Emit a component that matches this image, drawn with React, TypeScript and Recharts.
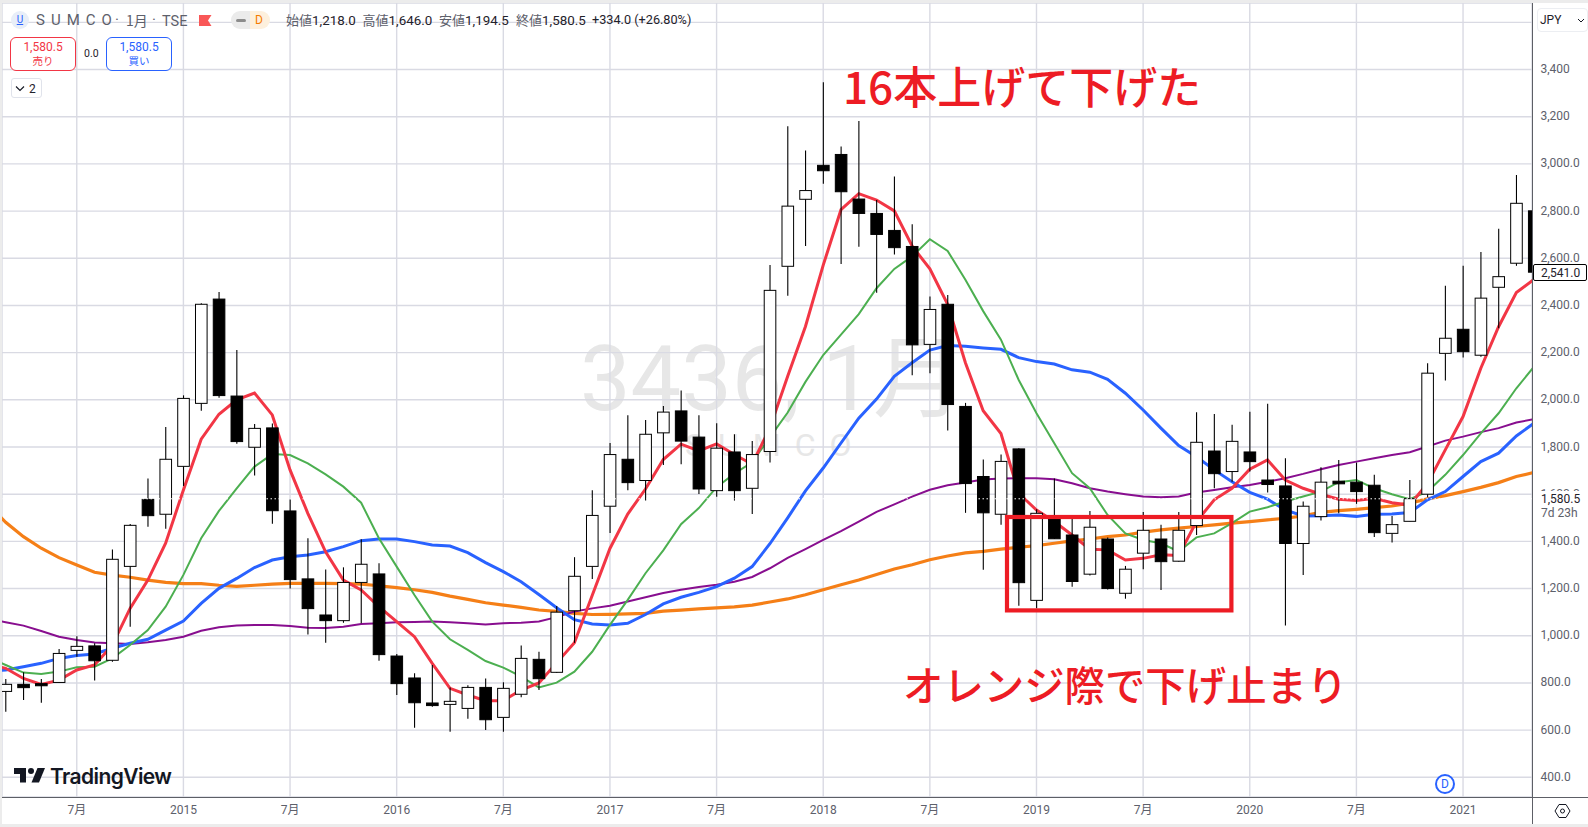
import React from "react";
import { ComposedChart, Bar, Line, XAxis, YAxis, CartesianGrid, ReferenceLine } from "recharts";

const FIRST_MONTH = -11; // Feb 2014, counted in months from Jan 2015
const opens = [790,764,794,797,802,938,957,896,1294,1578,1515,1718,1985,2427,2016,1799,1881,1529,1241,1088,1064,1226,1262,914,821,715,709,692,781,654,752,900,845,1106,1294,1549,1748,1658,1860,1953,1842,1615,1779,1625,1781,2566,2850,2994,3040,2851,2790,2718,2650,2235,2405,1972,1675,1515,1792,1150,1500,1427,1261,1410,1180,1350,1410,1316,1467,1783,1696,1779,1660,1635,1391,1505,1655,1651,1638,1434,1485,1600,2197,2299,2189,2477,2579,2801];
const highs = [820,817,845,817,944,998,968,1366,1474,1667,1885,2019,2409,2457,2211,1898,1900,1578,1413,1281,1290,1409,1307,923,841,876,781,790,819,803,959,932,1126,1333,1617,1817,1935,1914,1974,2040,1935,1901,1854,1825,2571,3160,3057,3346,3074,3182,2847,2947,2744,2438,2444,1987,1747,1768,1795,1536,1666,1500,1529,1416,1296,1525,1470,1525,1947,1940,1894,1949,1983,1752,1569,1714,1745,1734,1682,1508,1660,2155,2483,2568,2627,2725,2953,2801];
const lows = [740,678,728,716,802,911,810,890,1038,1462,1454,1635,1954,2009,1814,1679,1475,1200,1005,970,1055,1053,894,749,610,699,593,648,600,593,739,770,842,970,1241,1435,1617,1573,1724,1727,1601,1589,1573,1516,1734,2441,2652,2916,2576,2649,2454,2616,2104,2113,1870,1521,1280,1471,1127,1117,1410,1208,1255,1196,1157,1282,1194,1314,1427,1625,1653,1696,1607,1043,1258,1488,1519,1559,1419,1395,1485,1587,2082,2179,2183,2303,2568,2541];
const closes = [764,794,780,788,925,955,894,1324,1468,1509,1748,2006,2405,2018,1823,1879,1530,1238,1115,1064,1226,1303,920,797,716,704,722,781,644,777,904,818,1100,1252,1510,1768,1649,1854,1948,1825,1622,1795,1615,1768,2464,2821,2887,2971,2882,2790,2701,2645,2233,2383,1980,1645,1521,1739,1225,1519,1411,1230,1460,1200,1282,1447,1314,1447,1820,1687,1824,1738,1641,1391,1549,1651,1644,1611,1437,1471,1581,2113,2261,2204,2431,2522,2833,2541];

const redMA = [880,862,819,794,812,855,876,960,1116,1236,1392,1618,1833,1939,2000,2029,1936,1703,1519,1356,1236,1194,1123,1060,996,883,777,749,725,725,770,800,885,970,1171,1370,1516,1622,1747,1812,1784,1813,1768,1727,1881,2100,2311,2571,2806,2874,2847,2801,2652,2555,2405,2157,1954,1857,1604,1533,1484,1427,1367,1364,1321,1328,1343,1340,1484,1576,1625,1706,1745,1660,1625,1600,1579,1573,1583,1564,1554,1646,1788,1929,2134,2310,2455,2511];
const greenMA = [909,876,844,838,848,866,869,904,961,1024,1123,1258,1413,1529,1625,1717,1770,1766,1731,1684,1632,1564,1413,1293,1173,1060,985,940,893,865,827,781,801,848,932,1046,1152,1265,1362,1473,1541,1630,1687,1735,1841,1946,2076,2190,2276,2363,2473,2555,2608,2681,2631,2509,2376,2255,2084,1943,1816,1689,1625,1512,1434,1406,1392,1357,1417,1434,1477,1526,1545,1569,1590,1611,1651,1660,1625,1600,1579,1611,1682,1766,1858,1943,2049,2141];
const blueMA = [850,855,869,883,904,916,923,947,968,985,1024,1062,1137,1201,1243,1289,1321,1335,1342,1356,1378,1403,1410,1410,1399,1385,1380,1352,1310,1272,1229,1175,1119,1068,1050,1046,1053,1090,1135,1163,1184,1208,1244,1293,1390,1500,1614,1711,1817,1922,2003,2100,2157,2211,2230,2227,2220,2214,2179,2162,2152,2127,2117,2087,2028,1957,1880,1806,1759,1703,1653,1608,1579,1533,1508,1509,1512,1506,1515,1516,1522,1576,1611,1675,1738,1774,1847,1901];
const purpleMA = [1072,1057,1043,1020,996,982,971,968,965,972,982,996,1021,1036,1043,1046,1046,1041,1034,1033,1038,1050,1053,1057,1058,1060,1057,1053,1048,1053,1055,1060,1079,1103,1116,1127,1145,1163,1181,1195,1207,1216,1229,1249,1286,1330,1367,1406,1443,1484,1525,1557,1590,1619,1638,1650,1662,1667,1668,1668,1663,1646,1625,1611,1600,1590,1587,1590,1607,1618,1629,1639,1653,1668,1686,1706,1724,1738,1752,1766,1778,1802,1827,1844,1863,1880,1904,1918];
const orangeMA = [1558,1481,1420,1371,1331,1300,1269,1257,1248,1236,1226,1221,1221,1214,1209,1214,1219,1222,1222,1222,1221,1219,1212,1204,1195,1184,1168,1154,1140,1130,1120,1109,1103,1095,1090,1091,1093,1095,1104,1109,1114,1118,1122,1130,1143,1156,1174,1195,1216,1236,1260,1283,1301,1322,1338,1351,1358,1367,1375,1382,1392,1402,1410,1420,1427,1439,1449,1456,1463,1470,1477,1484,1491,1498,1508,1523,1530,1536,1543,1550,1562,1580,1594,1611,1629,1649,1675,1692];

const xTickMonths = [-6,0,6,12,18,24,30,36,42,48,54,60,66,72];
const xTickLabels = ["7月","2015","7月","2016","7月","2017","7月","2018","7月","2019","7月","2020","7月","2021"];
const yTickValues = [400,600,800,1000,1200,1400,1600,1800,2000,2200,2400,2600,2800,3000,3200,3400,3600];
const yTickLabels = ["400.0","600.0","800.0","1,000.0","1,200.0","1,400.0","1,600.0","1,800.0","2,000.0","2,200.0","2,400.0","2,600.0","2,800.0","3,000.0","3,200","3,400",""];
const lastCloseLine = 1580.5;

const rows = opens.map((open, i) => ({
  month: FIRST_MONTH + i,
  open,
  high: highs[i],
  low: lows[i],
  close: closes[i],
  red: redMA[i],
  green: greenMA[i],
  blue: blueMA[i],
  purple: purpleMA[i],
  orange: orangeMA[i],
}));

const UI = "Roboto, 'Noto Sans CJK JP', sans-serif";
const CJK = "'Noto Sans CJK JP', sans-serif";

function Candle(props: any) {
  const { x, y, width, height, payload } = props;
  const { open, close, high, low } = payload;
  const perUnit = height / (high - low);
  const cx = x + width / 2;
  const top = y + (high - Math.max(open, close)) * perUnit;
  const bottom = y + (high - Math.min(open, close)) * perUnit;
  const up = close >= open;
  return (
    <g>
      <line x1={cx} x2={cx} y1={y} y2={y + height} stroke="#000" strokeWidth={1.1} />
      <rect
        x={cx - 5.8}
        y={top}
        width={11.6}
        height={Math.max(bottom - top, 1)}
        fill={up ? "#fff" : "#000"}
        stroke="#000"
        strokeWidth={1}
      />
    </g>
  );
}

function Abs({ l, t, w, h, style, children }: any) {
  return (
    <div style={{ position: "absolute", left: l, top: t, width: w, height: h, ...style }}>{children}</div>
  );
}

function Label({ l, cy, color, size = 13, family = UI, children, style }: any) {
  return (
    <div
      style={{
        position: "absolute",
        left: l,
        top: cy - 10,
        height: 20,
        lineHeight: "20px",
        color,
        fontSize: size,
        fontFamily: family,
        whiteSpace: "nowrap",
        ...style,
      }}
    >
      {children}
    </div>
  );
}

function Legend() {
  const gray = "#5d606b";
  const ink = "#1f222b";
  const pairs = [
    ["始値", "1,218.0", 286],
    ["高値", "1,646.0", 362.5],
    ["安値", "1,194.5", 439],
    ["終値", "1,580.5", 516],
  ];
  return (
    <>
      <Abs l={11} t={11} w={18} h={18} style={{ borderRadius: 9, background: "#e8eef8" }} />
      <Label l={11} cy={20} color="#2962ff" size={10} style={{ width: 18, textAlign: "center", textDecoration: "underline" }}>U</Label>
      <Label l={36} cy={20} color={gray} size={15} style={{ letterSpacing: 6 }}>SUMCO</Label>
      <Label l={115} cy={20} color={gray} size={15}>·</Label>
      <Label l={126} cy={20} color={gray} size={14} family={CJK}>1月</Label>
      <Label l={152} cy={20} color={gray} size={15}>·</Label>
      <Label l={162} cy={21.5} color={gray} size={14.5}>TSE</Label>
      <svg style={{ position: "absolute", left: 199, top: 15 }} width={13} height={11}>
        <path d="M0 0H12.5L9 5.5L12.5 11H0Z" fill="#f95757" />
      </svg>
      <Abs l={231} t={11} w={20} h={18} style={{ background: "#ebebeb", borderRadius: "9px 0 0 9px" }} />
      <Abs l={236} t={18.5} w={10} h={3} style={{ background: "#8c8c8c", borderRadius: 2 }} />
      <Abs l={250} t={11} w={20} h={18} style={{ background: "#fdf0dd", borderRadius: "0 9px 9px 0" }} />
      <Label l={255} cy={20} color="#f57c00" size={12}>D</Label>
      {pairs.map(([name, val, l]) => (
        <Label key={name as string} l={l} cy={20} color={gray} size={13} family={CJK}>
          {name}
          <span style={{ color: ink, fontFamily: UI, fontSize: 13.4 }}>{val}</span>
        </Label>
      ))}
      <Label l={592} cy={20} color={ink} size={12.7}>+334.0 (+26.80%)</Label>

      <Abs l={10} t={37} w={66} h={34} style={{ boxSizing: "border-box", border: "1px solid #f23645", borderRadius: 6, background: "#fff" }} />
      <Label l={10} cy={46.5} color="#f23645" size={12} style={{ width: 66, textAlign: "center" }}>1,580.5</Label>
      <Label l={10} cy={61} color="#f23645" size={10.5} family={CJK} style={{ width: 66, textAlign: "center" }}>売り</Label>
      <Label l={84} cy={54} color={ink} size={10.5}>0.0</Label>
      <Abs l={106} t={37} w={66} h={34} style={{ boxSizing: "border-box", border: "1px solid #2962ff", borderRadius: 6, background: "#fff" }} />
      <Label l={106} cy={46.5} color="#2962ff" size={12} style={{ width: 66, textAlign: "center" }}>1,580.5</Label>
      <Label l={106} cy={61} color="#2962ff" size={10.5} family={CJK} style={{ width: 66, textAlign: "center" }}>買い</Label>

      <Abs l={10.5} t={78} w={31} h={20} style={{ boxSizing: "border-box", border: "1px solid #e0e3eb", borderRadius: 3, background: "#fff" }} />
      <svg style={{ position: "absolute", left: 15, top: 85 }} width={10} height={7}>
        <path d="M1 1.5L5 5.5L9 1.5" stroke="#131722" strokeWidth={1.1} fill="none" />
      </svg>
      <Label l={29} cy={88.5} color={ink} size={12}>2</Label>
    </>
  );
}

function Logo() {
  return (
    <>
      <svg style={{ position: "absolute", left: 14, top: 768 }} width={31} height={15} viewBox="0 0 31 15">
        <path d="M0 0H12V14.5H6V6H0Z" fill="#131722" />
        <circle cx={17} cy={3} r={3} fill="#131722" />
        <path d="M23.5 0H31L25 14.5H17.5Z" fill="#131722" />
      </svg>
      <Label l={50} cy={776.5} color="#131722" size={21} family="Inter, sans-serif" style={{ fontWeight: 600, letterSpacing: -0.6 }}>TradingView</Label>
    </>
  );
}

function RightPanel() {
  const ink = "#1f222b";
  return (
    <>
      <Abs l={1537} t={8} w={51} h={24} style={{ boxSizing: "border-box", border: "1px solid #eceef2", borderRadius: 4, background: "#fff" }} />
      <Label l={1540} cy={20} color={ink} size={12}>JPY</Label>
      <svg style={{ position: "absolute", left: 1577, top: 18 }} width={8} height={5}>
        <path d="M1 1L4 4L7 1" stroke="#131722" strokeWidth={1} fill="none" />
      </svg>
      <Abs l={1534} t={491} w={54} h={29} style={{ background: "#fff" }} />
      <Label l={1541} cy={499} color={ink} size={12}>1,580.5</Label>
      <Label l={1541} cy={513} color="#5d606b" size={12}>7d 23h</Label>
      <Abs l={1533} t={264} w={54} h={17} style={{ boxSizing: "border-box", border: "1px solid #000", borderRadius: 2, background: "#fff" }} />
      <Label l={1541} cy={272.5} color={ink} size={12}>2,541.0</Label>
      <Abs l={1435} t={774} w={20} h={20} style={{ boxSizing: "border-box", border: "2px solid #2962ff", borderRadius: 10, background: "#fff" }} />
      <Label l={1435} cy={784} color="#2962ff" size={12} style={{ width: 20, textAlign: "center" }}>D</Label>
      <svg style={{ position: "absolute", left: 1554, top: 803 }} width={17} height={16}>
        <path d="M5 1.5H12L16 8L12 14.5H5L1 8Z" stroke="#131722" strokeWidth={1} fill="none" />
        <circle cx={8.5} cy={8} r={2} stroke="#131722" strokeWidth={1} fill="none" />
      </svg>
    </>
  );
}

export default function App() {
  return (
    <div style={{ position: "absolute", left: 0, top: 0, width: 1588, height: 827, background: "#fff", overflow: "hidden" }}>
      <Label l={580} cy={380} color="#e7e7e7" size={90} family={UI} style={{ letterSpacing: 0 }}>3436, 1月</Label>
      <Label l={685} cy={445} color="#e7e7e7" size={32} family="Roboto, sans-serif" style={{ letterSpacing: 14 }}>SUMCO</Label>

      <div style={{ position: "absolute", left: 0, top: 0 }}>
        <ComposedChart
          width={1588}
          height={827}
          data={rows}
          margin={{ top: 3, right: 0, bottom: 0, left: 2 }}
        >
          <CartesianGrid stroke="#d9dae3" strokeWidth={1.4} />
          <XAxis
            dataKey="month"
            type="number"
            domain={[-10.207, 75.88]}
            allowDataOverflow
            ticks={xTickMonths}
            interval={0}
            height={30}
            axisLine={false}
            tickLine={false}
            tickSize={0}
            tickMargin={8}
            tick={{ fill: "#5d606b", fontSize: 12, fontFamily: UI }}
            tickFormatter={(m: number) => xTickLabels[xTickMonths.indexOf(m)]}
          />
          <YAxis
            orientation="right"
            type="number"
            domain={[316.5, 3682]}
            allowDataOverflow
            ticks={yTickValues}
            interval={0}
            width={56}
            axisLine={false}
            tickLine={false}
            tickSize={0}
            tickMargin={8.5}
            tick={{ fill: "#5d606b", fontSize: 12, fontFamily: UI, dy: -0.7 }}
            tickFormatter={(v: number) => yTickLabels[yTickValues.indexOf(v)]}
          />
          <Line dataKey="orange" stroke="#f57f17" strokeWidth={3.2} dot={false} isAnimationActive={false} />
          <Line dataKey="purple" stroke="#880e8f" strokeWidth={2} dot={false} isAnimationActive={false} />
          <Line dataKey="blue" stroke="#2962ff" strokeWidth={3} dot={false} isAnimationActive={false} />
          <Line dataKey="green" stroke="#4caf50" strokeWidth={2} dot={false} isAnimationActive={false} />
          <Line dataKey="red" stroke="#f23645" strokeWidth={3} dot={false} isAnimationActive={false} />
          <Bar
            dataKey={(r: any) => [r.low, r.high]}
            barSize={12}
            shape={(p: any) => <Candle {...p} />}
            isAnimationActive={false}
            zIndex={450}
          />
          <ReferenceLine y={lastCloseLine} stroke="#fff" strokeWidth={1} strokeDasharray="1.5 2.5" zIndex={460} />
        </ComposedChart>
      </div>

      {/* frame */}
      <Abs l={0} t={0} w={1588} h={3} style={{ background: "#ececec" }} />
      <Abs l={0} t={0} w={2} h={827} style={{ background: "#ececec" }} />
      <Abs l={0} t={824} w={1588} h={3} style={{ background: "#ececec" }} />
      <Abs l={2} t={796.5} w={1586} h={1.4} style={{ background: "#5d5f66" }} />
      <Abs l={1531.5} t={3} w={1.4} h={821} style={{ background: "#5d5f66" }} />

      <Legend />
      <Logo />
      <RightPanel />

      {/* hand annotations */}
      <svg width={240} height={110} style={{ position: "absolute", left: 1003.3, top: 513.3 }}>
        <rect x={4} y={4} width={224.4} height={93.4} fill="none" stroke="#ed1c24" strokeWidth={4.2} />
      </svg>
      <Label l={843} cy={85} color="#ed1c24" size={44} family={CJK} style={{ fontWeight: 500 }}>16本上げて下げた</Label>
      <Label l={903} cy={684} color="#ed1c24" size={40.4} family={CJK} style={{ fontWeight: 500 }}>オレンジ際で下げ止まり</Label>
    </div>
  );
}
